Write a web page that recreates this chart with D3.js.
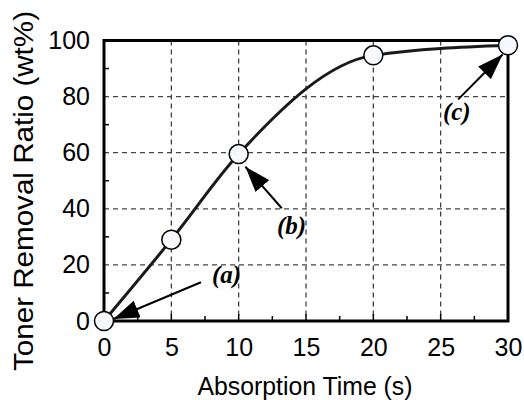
<!DOCTYPE html>
<html><head><meta charset="utf-8">
<script src="https://cdn.jsdelivr.net/npm/d3@7"></script>
<style>body{margin:0;background:#fff}</style>
</head><body>
<svg id="c" width="524" height="400"></svg>
<script>
const times = [0, 5, 10, 20, 30];
const ratios = [0, 29, 59.5, 94.7, 98.3];
const xTicks = [0, 5, 10, 15, 20, 25, 30];
const yTicks = [0, 20, 40, 60, 80, 100];
const xMinor = [2.5, 7.5, 12.5, 17.5, 22.5, 27.5];
const yMinor = [10, 30, 50, 70, 90];
const labelText = ["(a)", "(b)", "(c)"];
const labelX = [8.02, 12.85, 25.17];
const labelY = [13.5, 31.0, 71.7];
const arrowFromX = [7.2, 13.2, 26.3];
const arrowFromY = [13.8, 40.2, 79.0];
const arrowToX = [0.7, 10.5, 29.6];
const arrowToY = [0.7, 55, 95];

const svg = d3.select("#c");
const L=104, R=508, T=40.5, B=321;
const x = d3.scaleLinear().domain([0,30]).range([L,R]);
const y = d3.scaleLinear().domain([0,100]).range([B,T]);
const sans = "'Liberation Sans',Arial,Helvetica,sans-serif";

// grid
const g = svg.append("g");
g.selectAll(".gx").data(xTicks.slice(1,-1)).join("line")
  .attr("x1",d=>x(d)).attr("x2",d=>x(d)).attr("y1",T).attr("y2",B)
  .attr("stroke","#333").attr("stroke-width",1.2).attr("stroke-dasharray","5,4");
g.selectAll(".gy").data(yTicks.slice(1,-1)).join("line")
  .attr("y1",d=>y(d)).attr("y2",d=>y(d)).attr("x1",L).attr("x2",R)
  .attr("stroke","#444").attr("stroke-width",1.2).attr("stroke-dasharray","5,4");

// minor ticks
g.selectAll(".mx").data(xMinor).join("line")
  .attr("x1",d=>x(d)).attr("x2",d=>x(d)).attr("y1",B).attr("y2",B-5)
  .attr("stroke","#000").attr("stroke-width",1.5);
g.selectAll(".Mx").data(xTicks.slice(1,-1)).join("line")
  .attr("x1",d=>x(d)).attr("x2",d=>x(d)).attr("y1",B).attr("y2",B-7)
  .attr("stroke","#000").attr("stroke-width",1.5);
g.selectAll(".my").data(yMinor).join("line")
  .attr("y1",d=>y(d)).attr("y2",d=>y(d)).attr("x1",L).attr("x2",L+5)
  .attr("stroke","#000").attr("stroke-width",1.5);

// frame
svg.append("rect").attr("x",L).attr("y",T).attr("width",R-L).attr("height",B-T)
  .attr("fill","none").attr("stroke","#000").attr("stroke-width",3);

// axes tick labels
const xAxis = d3.axisBottom(x).tickValues(xTicks).tickSize(0).tickPadding(17);
svg.append("g").attr("transform",`translate(0,${B})`).call(xAxis)
  .call(s=>s.select(".domain").remove())
  .selectAll("text").attr("font-family",sans).attr("font-size",25).attr("fill","#000");
const yAxis = d3.axisLeft(y).tickValues(yTicks).tickSize(0).tickPadding(14);
svg.append("g").attr("transform",`translate(${L},0)`).call(yAxis)
  .call(s=>s.select(".domain").remove())
  .selectAll("text").attr("font-family",sans).attr("font-size",25).attr("fill","#000");

svg.append("text").attr("x",305).attr("y",395).attr("text-anchor","middle")
  .attr("font-family",sans).attr("font-size",26).attr("textLength",215)
  .attr("lengthAdjust","spacingAndGlyphs").text("Absorption Time (s)");
svg.append("text").attr("transform","translate(33,191) rotate(-90)").attr("text-anchor","middle")
  .attr("font-family",sans).attr("font-size",27).attr("textLength",360)
  .attr("lengthAdjust","spacingAndGlyphs").text("Toner Removal Ratio (wt%)");

// curve
const data = times.map((t,i)=>({t, v:ratios[i]}));
svg.append("path").datum(data)
  .attr("d", d3.line().x(d=>x(d.t)).y(d=>y(d.v)).curve(d3.curveMonotoneX))
  .attr("fill","none").attr("stroke","#1a1a1a").attr("stroke-width",3);

svg.selectAll(".pt").data(data).join("circle")
  .attr("cx",d=>x(d.t)).attr("cy",d=>y(d.v)).attr("r",9.5)
  .attr("fill","#f8f9ff").attr("stroke","#000").attr("stroke-width",1.5);

// arrows
svg.append("defs").append("marker").attr("id","ah").attr("viewBox","0 0 10 7")
  .attr("refX",10).attr("refY",3.5).attr("markerWidth",26).attr("markerHeight",18)
  .attr("markerUnits","userSpaceOnUse").attr("orient","auto")
  .append("path").attr("d","M0,0 L10,3.5 L0,7 Z").attr("fill","#000");

labelText.forEach((t,i)=>{
  svg.append("line").attr("x1",x(arrowFromX[i])).attr("y1",y(arrowFromY[i]))
    .attr("x2",x(arrowToX[i])).attr("y2",y(arrowToY[i]))
    .attr("stroke","#000").attr("stroke-width",2).attr("marker-end","url(#ah)");
  svg.append("text").attr("x",x(labelX[i])).attr("y",y(labelY[i]))
    .attr("font-family","'Liberation Serif','Times New Roman',serif").attr("font-style","italic")
    .attr("font-weight","bold").attr("font-size",25).text(t);
});
</script>
</body></html>
